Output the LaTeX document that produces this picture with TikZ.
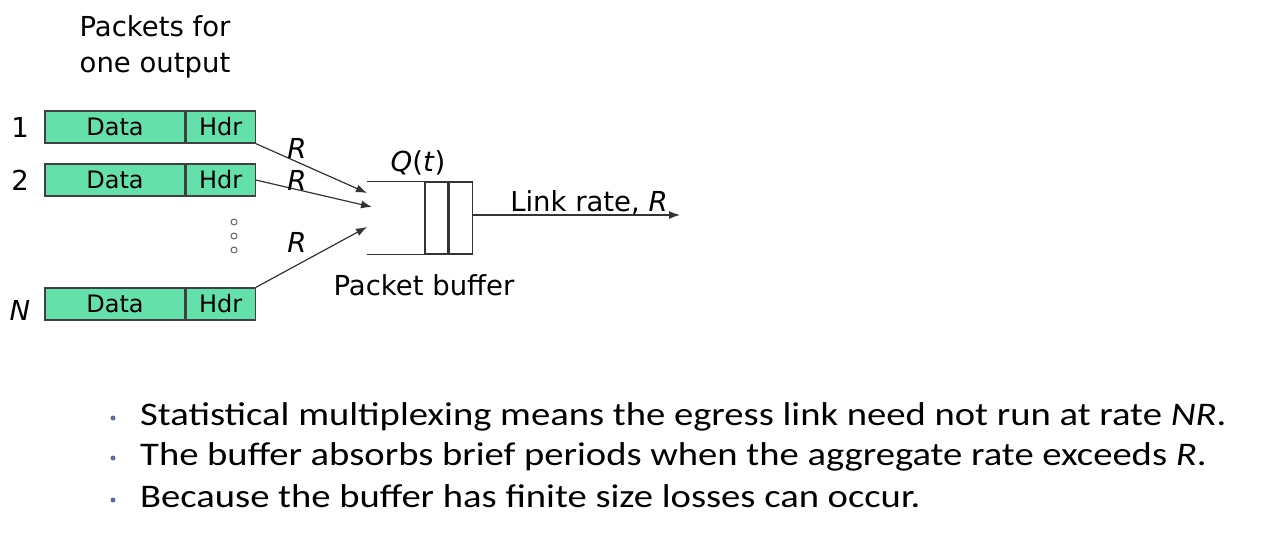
\documentclass[tikz,border=0pt]{standalone}
\usepackage{graphicx}
\usepackage{fontspec}
\setmainfont{DejaVu Sans}
\newfontfamily\bulletfont{Carlito}
\usetikzlibrary{arrows.meta}
\definecolor{pktgreen}{RGB}{100,225,170}
\definecolor{dotblue}{RGB}{95,105,165}
\begin{document}
\begin{tikzpicture}[x=1pt,y=-1pt,
  pkt/.style={draw=black!75,fill=pktgreen,line width=1.2pt,minimum height=32pt,inner sep=0pt,font=\fontsize{24}{28}\selectfont},
  lbl/.style={inner sep=0pt,font=\fontsize{27.5}{36}\selectfont},
  cell/.style={draw=black!80,line width=1.2pt,minimum width=23pt,minimum height=72pt,inner sep=0pt},
  arr/.style={draw=black!80,line width=1.2pt,-{Latex[length=11pt,width=8pt]}},
  bul/.style={inner sep=0pt,font=\bulletfont\fontsize{33}{40}\selectfont}]
\useasboundingbox (0,0) rectangle (1268,544);
\pgfmathsetmacro{\kdata}{140}
\pgfmathsetmacro{\khdr}{69}
% packets
\foreach \k/\ky/\kb/\klb in {a/127/137/1,b/180/190/2,n/304/320/{\textit{N}}}{
  \node[pkt,minimum width=\kdata pt](d\k) at (45+\kdata/2,\ky){Data};
  \node[pkt,minimum width=\khdr pt,anchor=west](h\k) at (d\k.east){Hdr};
  \node[lbl,anchor=base](l\k) at (20,\kb){\klb};
}
\node[lbl,align=center,anchor=north](title) at (155,15){Packets for\\one output};
\foreach \ky in {222,236,250}{\draw[black!60,line width=1pt](234,\ky) circle (3pt);}
% buffer
\node[cell](c1) at (436.5,218){};
\node[cell,anchor=west](c2) at (c1.east){};
\draw[black!80,line width=1.2pt](c1.north west)--++(-57,0);
\draw[black!80,line width=1.2pt](c1.south west)--++(-57,0);
\node[lbl](qt) at (418,163){\textit{Q}(\textit{t})};
\node[lbl,anchor=base](pb) at (424,295){Packet buffer};
% links
\coordinate (ia) at (367,193);
\coordinate (ib) at (372,207);
\coordinate (in) at (367,227);
\draw[arr](ha.south east)--(ia);
\draw[arr](hb.east)--(ib);
\draw[arr](hn.north east)--(in);
\node[lbl](ra) at (297,148){\textit{R}};
\node[lbl](rb) at (297,180){\textit{R}};
\node[lbl](rn) at (297,242){\textit{R}};
\coordinate (out) at (680,215);
\draw[arr](c2.east|-out)--(out);
\node[lbl,anchor=base](link) at (589,211){Link rate, \textit{R}};
% bullets
\foreach \k/\ky/\txt in {1/425/{Statistical multiplexing means the egress link need not run at rate \textit{NR}.},
  2/465/{The buffer absorbs brief periods when the aggregate rate exceeds \textit{R}.},
  3/507/{Because the buffer has finite size losses can occur.}}{
  \fill[dotblue](113,\ky-7) circle (2.5pt);
  \node[bul,anchor=base west](b\k) at (140,\ky){\scalebox{1.17}[1]{\txt}};
}
\end{tikzpicture}
\end{document}
